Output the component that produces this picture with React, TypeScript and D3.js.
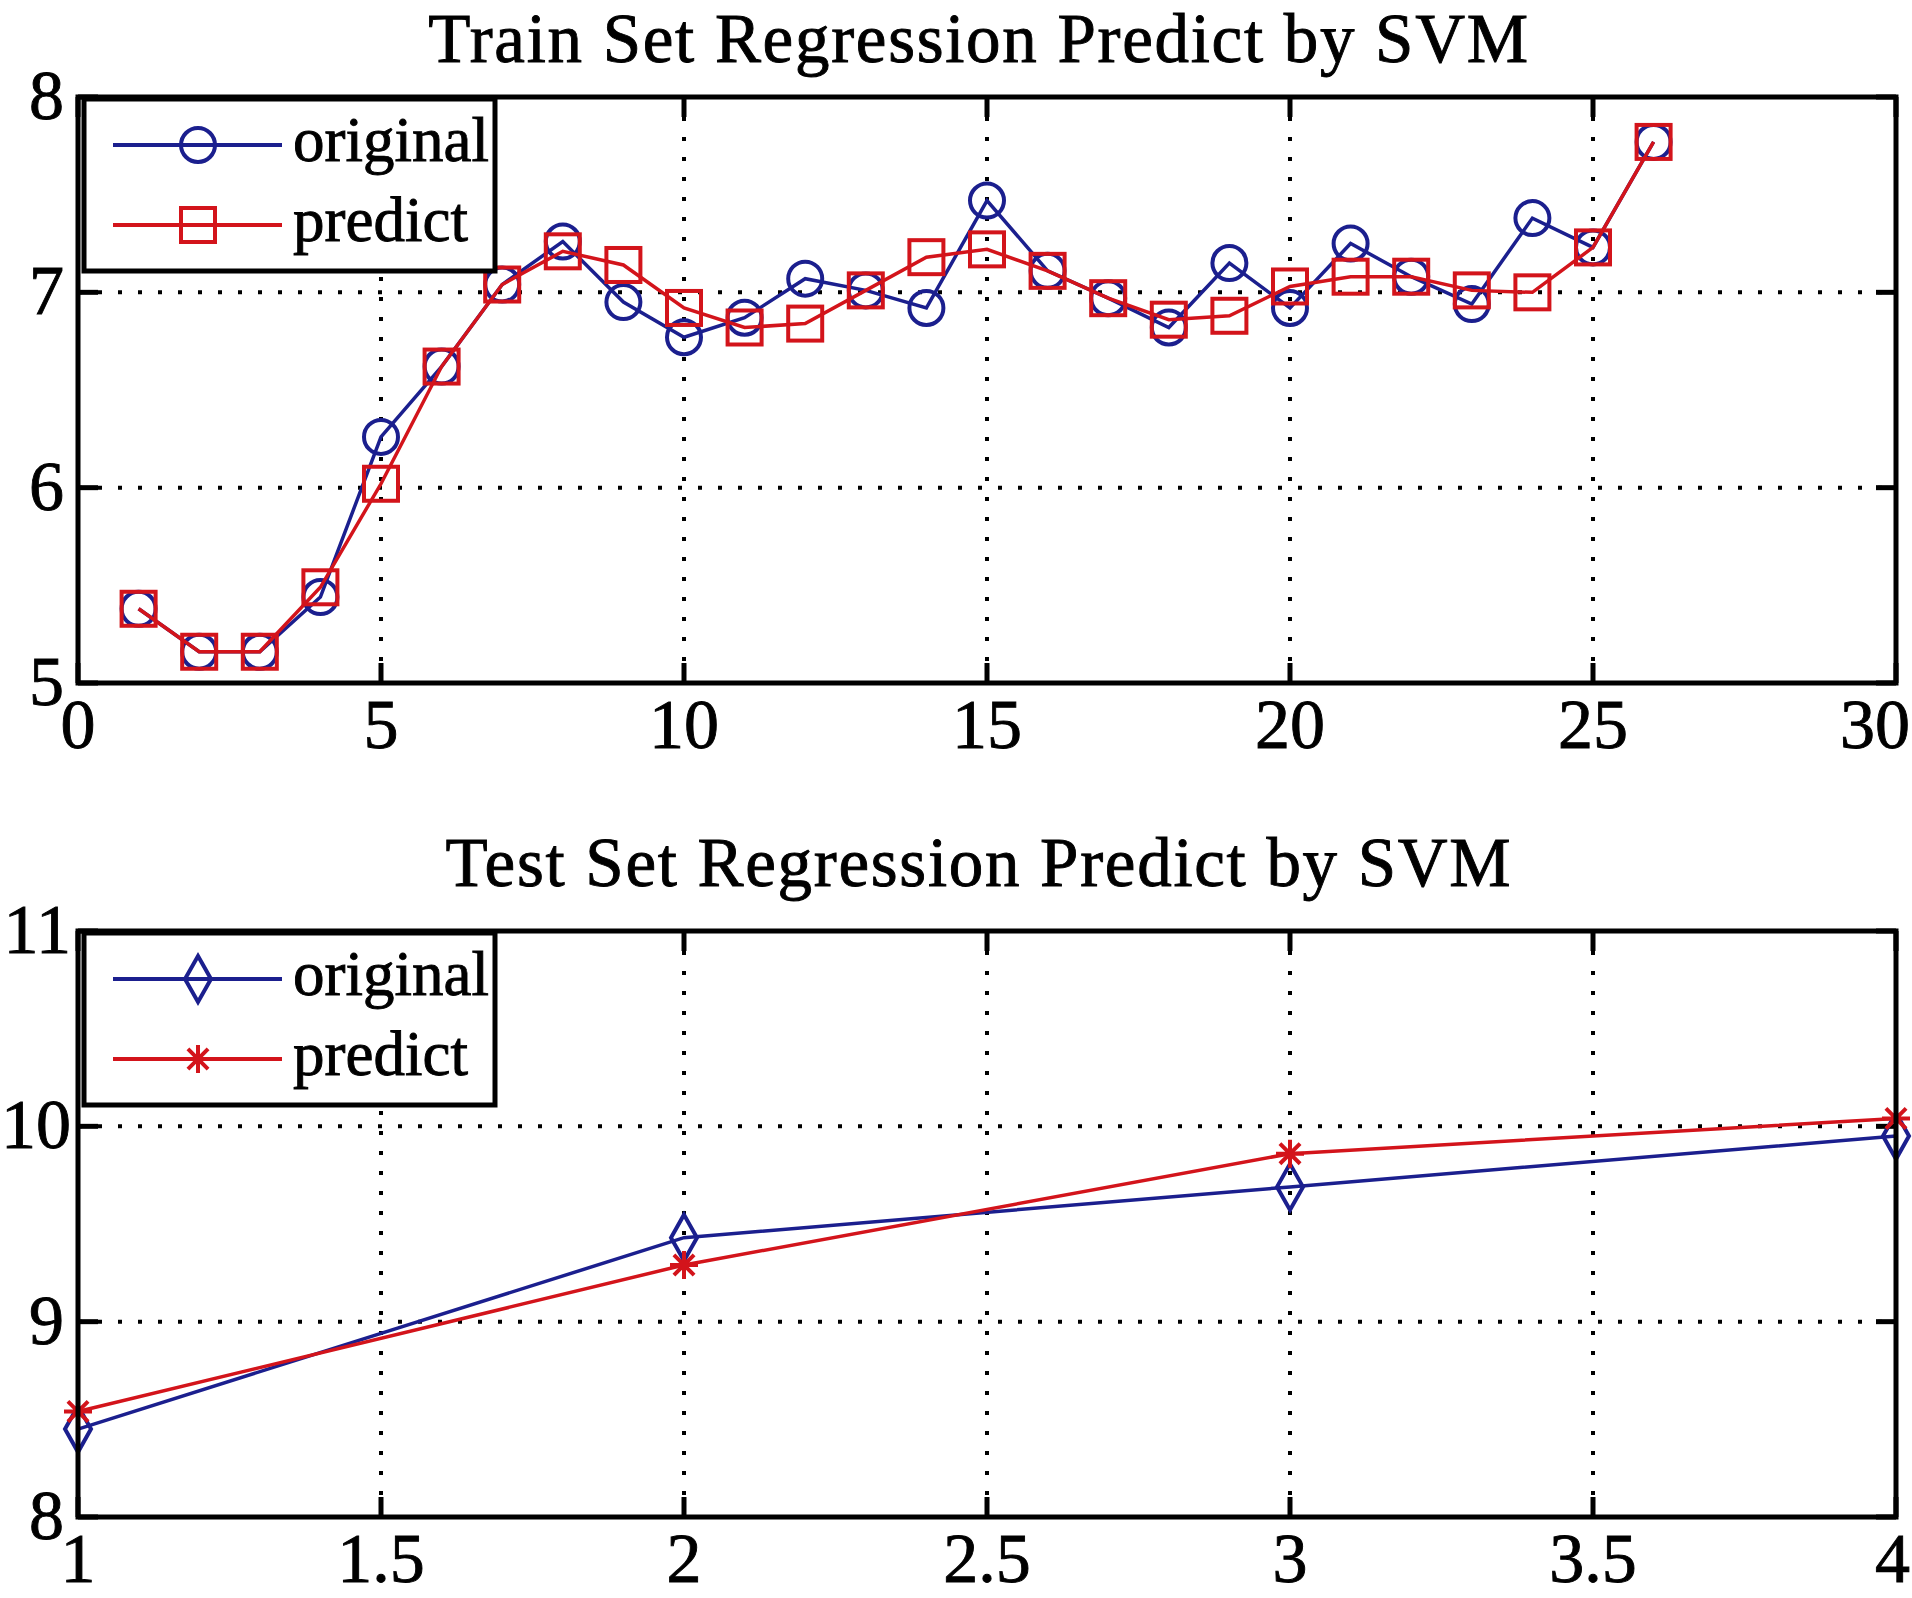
import { useEffect, useRef } from 'react';
import * as d3 from 'd3';

const trainIndex = [1, 2, 3, 4, 5, 6, 7, 8, 9, 10, 11, 12, 13, 14, 15, 16, 17, 18, 19, 20, 21, 22, 23, 24, 25, 26];
const trainOriginal = [5.38, 5.16, 5.16, 5.44, 6.26, 6.62, 7.04, 7.26, 6.95, 6.77, 6.87, 7.07, 7.01, 6.92, 7.47, 7.11, 6.97, 6.82, 7.15, 6.92, 7.25, 7.08, 6.94, 7.38, 7.23, 7.77];
const trainPredict = [5.38, 5.16, 5.16, 5.49, 6.02, 6.62, 7.04, 7.21, 7.14, 6.92, 6.82, 6.84, 7.01, 7.18, 7.22, 7.11, 6.97, 6.86, 6.88, 7.03, 7.08, 7.08, 7.01, 7.0, 7.23, 7.77];
const trainXTicks = [0, 5, 10, 15, 20, 25, 30];
const trainYTicks = [5, 6, 7, 8];

const testIndex = [1, 2, 3, 4];
const testOriginal = [8.45, 9.43, 9.69, 9.95];
const testPredict = [8.54, 9.29, 9.86, 10.04];
const testXTicks = [1, 1.5, 2, 2.5, 3, 3.5, 4];
const testYTicks = [8, 9, 10, 11];

const seriesNames = ['original', 'predict'];

const BLUE = '#1b1f8e';
const RED = '#d3141b';
const FONT = '"Liberation Serif", "DejaVu Serif", serif';
const W = 1912;
const TICK_FONT = 70;

type Marker = 'circle' | 'square' | 'diamond' | 'star';

function drawMarker(g: any, kind: Marker, x: number, y: number, color: string) {
  if (kind === 'circle') {
    g.append('circle').attr('cx', x).attr('cy', y).attr('r', 17)
      .attr('fill', 'none').attr('stroke', color).attr('stroke-width', 4);
  } else if (kind === 'square') {
    g.append('rect').attr('x', x - 17).attr('y', y - 17).attr('width', 34).attr('height', 34)
      .attr('fill', 'none').attr('stroke', color).attr('stroke-width', 4);
  } else if (kind === 'diamond') {
    g.append('path')
      .attr('d', `M${x},${y - 23}L${x + 13},${y}L${x},${y + 23}L${x - 13},${y}Z`)
      .attr('fill', 'none').attr('stroke', color).attr('stroke-width', 4);
  } else {
    const s = 14;
    const d = s * 0.72;
    g.append('path')
      .attr('d', `M${x - s},${y}L${x + s},${y}M${x},${y - s}L${x},${y + s}M${x - d},${y - d}L${x + d},${y + d}M${x - d},${y + d}L${x + d},${y - d}`)
      .attr('fill', 'none').attr('stroke', color).attr('stroke-width', 4);
  }
}

function label(g: any, size: number) {
  return g.append('text')
    .attr('font-family', FONT)
    .attr('font-size', size)
    .attr('fill', '#000')
    .attr('stroke', '#000')
    .attr('stroke-width', 0.9);
}

function drawPanel(
  root: any,
  opts: {
    title: string;
    titleY: number;
    top: number;
    xs: number[];
    a: number[];
    b: number[];
    xDomain: [number, number];
    yDomain: [number, number];
    xTicks: number[];
    yTicks: number[];
    markers: [Marker, Marker];
  }
) {
  const left = 78;
  const right = 1896;
  const height = 586;
  const bottom = opts.top + height;

  const x = d3.scaleLinear().domain(opts.xDomain).range([left, right]);
  const y = d3.scaleLinear().domain(opts.yDomain).range([bottom, opts.top]);

  const g = root.append('g');

  // title
  label(g, 69)
    .attr('x', (left + right) / 2 - 8)
    .attr('y', opts.titleY)
    .attr('text-anchor', 'middle')
    .attr('letter-spacing', 1.7)
    .text(opts.title);

  // dotted grid
  const grid = g.append('g').attr('stroke', '#000').attr('stroke-width', 4)
    .attr('stroke-dasharray', '4 16');
  opts.xTicks.slice(1, -1).forEach((t) => {
    grid.append('line').attr('x1', x(t)).attr('x2', x(t)).attr('y1', opts.top).attr('y2', bottom);
  });
  opts.yTicks.slice(1, -1).forEach((t) => {
    grid.append('line').attr('x1', left).attr('x2', right).attr('y1', y(t)).attr('y2', y(t));
  });

  // ticks (inside, on all four sides)
  const ticks = g.append('g').attr('stroke', '#000').attr('stroke-width', 5);
  opts.xTicks.forEach((t) => {
    ticks.append('line').attr('x1', x(t)).attr('x2', x(t)).attr('y1', bottom).attr('y2', bottom - 20);
    ticks.append('line').attr('x1', x(t)).attr('x2', x(t)).attr('y1', opts.top).attr('y2', opts.top + 20);
  });
  opts.yTicks.forEach((t) => {
    ticks.append('line').attr('x1', left).attr('x2', left + 20).attr('y1', y(t)).attr('y2', y(t));
    ticks.append('line').attr('x1', right).attr('x2', right - 20).attr('y1', y(t)).attr('y2', y(t));
  });

  // tick labels, kept inside the picture
  opts.xTicks.forEach((t) => {
    const txt = String(t);
    const half = (txt.replace('.', '').length * 0.5 + (txt.includes('.') ? 0.25 : 0)) * TICK_FONT / 2;
    const cx = Math.min(x(t), W - 2 - half);
    label(g, TICK_FONT)
      .attr('x', cx)
      .attr('y', bottom + 65)
      .attr('text-anchor', 'middle')
      .text(txt);
  });
  opts.yTicks.forEach((t) => {
    const txt = String(t);
    const w = txt.length * 0.5 * TICK_FONT;
    const ex = Math.max(64, w + 1);
    label(g, TICK_FONT)
      .attr('x', ex)
      .attr('y', y(t) + 22)
      .attr('text-anchor', 'end')
      .text(txt);
  });

  // series
  const line = d3.line<number>().x((_, i) => x(opts.xs[i]));
  const series = [
    { values: opts.a, color: BLUE, marker: opts.markers[0] },
    { values: opts.b, color: RED, marker: opts.markers[1] },
  ];
  series.forEach((s) => {
    g.append('path')
      .datum(s.values)
      .attr('d', line.y((d) => y(d)))
      .attr('fill', 'none')
      .attr('stroke', s.color)
      .attr('stroke-width', 3.5);
    s.values.forEach((v, i) => drawMarker(g, s.marker, x(opts.xs[i]), y(v), s.color));
  });

  // frame
  g.append('rect')
    .attr('x', left).attr('y', opts.top)
    .attr('width', right - left).attr('height', height)
    .attr('fill', 'none').attr('stroke', '#000').attr('stroke-width', 5);

  // legend
  const lg = g.append('g');
  lg.append('rect')
    .attr('x', 84).attr('y', opts.top + 2)
    .attr('width', 411).attr('height', 172)
    .attr('fill', '#fff').attr('stroke', '#000').attr('stroke-width', 5);
  seriesNames.forEach((name, i) => {
    const ry = opts.top + 48 + i * 80;
    const s = series[i];
    lg.append('line').attr('x1', 113).attr('x2', 282).attr('y1', ry).attr('y2', ry)
      .attr('stroke', s.color).attr('stroke-width', 4);
    drawMarker(lg, s.marker, 198, ry, s.color);
    label(lg, 63)
      .attr('x', 293)
      .attr('y', ry + 16)
      .text(name);
  });
}

export default function App() {
  const svgRef = useRef<SVGSVGElement>(null);

  useEffect(() => {
    if (!svgRef.current) return;
    const svg = d3.select(svgRef.current);
    svg.selectAll('*').remove();

    drawPanel(svg, {
      title: 'Train Set Regression Predict by SVM',
      titleY: 62,
      top: 97,
      xs: trainIndex,
      a: trainOriginal,
      b: trainPredict,
      xDomain: [0, 30],
      yDomain: [5, 8],
      xTicks: trainXTicks,
      yTicks: trainYTicks,
      markers: ['circle', 'square'],
    });

    drawPanel(svg, {
      title: 'Test Set Regression Predict by SVM',
      titleY: 886,
      top: 931,
      xs: testIndex,
      a: testOriginal,
      b: testPredict,
      xDomain: [1, 4],
      yDomain: [8, 11],
      xTicks: testXTicks,
      yTicks: testYTicks,
      markers: ['diamond', 'star'],
    });
  }, []);

  return (
    <div style={{ position: 'absolute', left: 0, top: 0 }}>
      <svg ref={svgRef} width={W} height={1598} viewBox="0 0 1912 1598" style={{ display: 'block', background: '#fff' }} />
    </div>
  );
}
